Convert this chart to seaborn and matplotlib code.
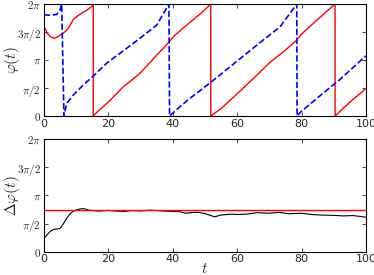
import matplotlib
matplotlib.use("Agg")
import matplotlib.pyplot as plt
import seaborn as sns
import numpy as np

# red phase (solid); repeated t marks the 2pi -> 0 wrap
t_red = [0, 1, 2, 2.9, 4, 5, 6, 7, 8, 9.1, 10.5, 12, 13.4, 14.8, 15.3,
         15.3, 17, 19.5, 22, 24.6, 27, 29.8, 32, 35, 37.5, 40.2, 43, 46, 49, 51.8,
         51.8, 55, 60, 65, 70, 75, 78.5, 80, 85, 90.4,
         90.4, 95, 100]
phi_red = [5.01, 4.65, 4.45, 4.36, 4.42, 4.54, 4.65, 4.80, 5.05, 5.42, 5.62, 5.80, 5.95, 6.13, 6.28,
           0.0, 0.30, 0.71, 1.15, 1.64, 1.98, 2.40, 2.82, 3.42, 3.88, 4.45, 4.90, 5.35, 5.80, 6.28,
           0.0, 0.42, 1.25, 2.10, 2.98, 3.70, 4.26, 4.60, 5.42, 6.28,
           0.0, 0.78, 1.55]

# blue phase (dashed)
t_blue = [0, 2, 4, 5, 5.5,
          6.2, 7.05, 9.1, 12.2, 15.3, 19.5, 24.6, 29.8, 35.0, 38.8,
          39.0, 42.2, 45.3, 52.0, 62.9, 68, 73.3, 78.5,
          78.6, 79.8, 86.6, 91.7, 100]
phi_blue = [5.68, 5.65, 5.70, 5.95, 6.28,
            0.0, 0.71, 1.18, 1.74, 2.24, 2.97, 3.65, 4.36, 5.10, 6.28,
            0.0, 0.52, 0.99, 1.92, 3.51, 4.25, 5.00, 6.28,
            0.0, 0.24, 1.27, 2.02, 3.38]

# phase difference
t_diff = [0, 1, 2, 3, 4, 5, 6, 7, 8, 9, 10, 11, 12, 13, 14, 15, 17, 20, 22, 25,
          27, 30, 33, 35, 37, 40, 42, 44, 46, 48, 50, 53, 55, 58, 60, 63, 66, 70,
          73, 76, 80, 83, 86, 90, 93, 96, 100]
dphi = [0.75, 0.95, 1.15, 1.25, 1.27, 1.30, 1.55, 1.85, 2.10, 2.25, 2.33, 2.38, 2.41, 2.38,
        2.32, 2.30, 2.27, 2.31, 2.28, 2.25, 2.30, 2.28, 2.32, 2.30, 2.28, 2.25, 2.24, 2.15,
        2.19, 2.20, 2.13, 1.95, 2.05, 2.10, 2.08, 2.10, 2.18, 2.15, 2.20, 2.12, 2.15, 2.08,
        2.05, 2.03, 2.00, 2.02, 1.93]
dphi_ref = 2.31

yticks = [0, np.pi / 2, np.pi, 3 * np.pi / 2, 2 * np.pi]
ylabels = [r"$0$", r"$\pi/2$", r"$\pi$", r"$3\pi/2$", r"$2\pi$"]

sns.set_style("ticks")
plt.rcParams["mathtext.fontset"] = "cm"
plt.rcParams["font.family"] = ["DejaVu Sans"]

fig = plt.figure(figsize=(3.74, 2.75), dpi=100)
ax1 = fig.add_axes([0.1176, 0.578, 0.861, 0.4075])
ax2 = fig.add_axes([0.1176, 0.0847, 0.861, 0.4088])

sns.lineplot(x=t_red, y=phi_red, ax=ax1, color="#ff0000", lw=1.0,
             estimator=None, sort=False)
sns.lineplot(x=t_blue, y=phi_blue, ax=ax1, color="#0000ff", lw=1.2,
             linestyle="--", estimator=None, sort=False)

sns.lineplot(x=t_diff, y=dphi, ax=ax2, color="black", lw=0.8,
             estimator=None, sort=False)
ax2.axhline(dphi_ref, color="#ff0000", lw=1.0)

for ax in (ax1, ax2):
    ax.set_xlim(0, 100)
    ax.set_ylim(0, 2 * np.pi)
    ax.set_xticks([0, 20, 40, 60, 80, 100])
    ax.set_yticks(yticks)
    ax.set_yticklabels(ylabels, fontsize=8)
    ax.tick_params(axis="both", direction="in", top=True, right=True,
                   length=3, width=0.6, labelsize=8, pad=2)
    for s in ax.spines.values():
        s.set_linewidth(0.8)
        s.set_color("black")

ax1.set_ylabel(r"$\varphi(t)$", fontsize=11)
ax2.set_ylabel(r"$\Delta\varphi(t)$", fontsize=11)
ax1.yaxis.set_label_coords(-0.068, 0.5)
ax2.yaxis.set_label_coords(-0.068, 0.5)
ax2.set_xlabel(r"$t$", fontsize=11)
ax2.xaxis.set_label_coords(0.5, -0.085)

fig.savefig("out.png", dpi=100)
